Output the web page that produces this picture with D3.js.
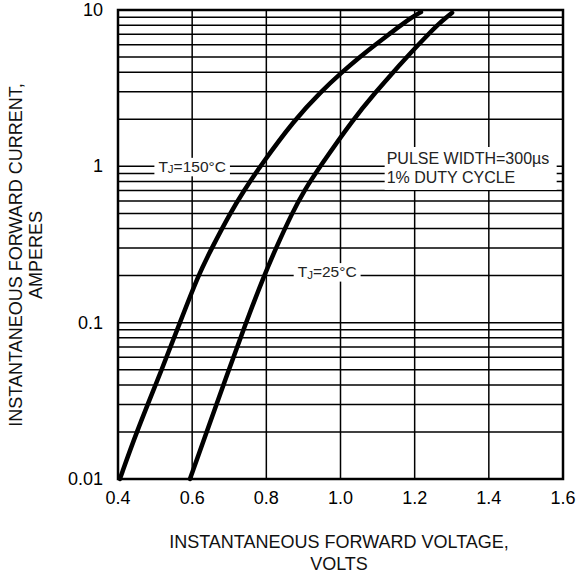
<!DOCTYPE html>
<html>
<head>
<meta charset="utf-8">
<script src="https://cdn.jsdelivr.net/npm/d3@7"></script>
<style>
    body { margin: 0; background: #fff; }
    svg { font-family: "Liberation Sans", Arial, sans-serif; }
    .grid line { stroke: #000; stroke-width: 1.5; }
    .curve { fill: none; stroke: #000; stroke-width: 4.5; stroke-linecap: round; }
</style>
</head>
<body>
<div id="chart"></div>
<script>
// Forward voltage (V) vs forward current (A)
const volts150 = [0.405, 0.450, 0.518, 0.567, 0.616, 0.653, 0.702, 0.740, 0.783, 0.877, 0.947, 1.004, 1.052, 1.094, 1.131, 1.163, 1.193, 1.217];
const amps150  = [0.01, 0.02, 0.05, 0.1, 0.2, 0.3, 0.5, 0.7, 1, 2, 3, 4, 5, 6, 7, 8, 9, 9.7];

const volts25 = [0.594, 0.639, 0.699, 0.745, 0.794, 0.826, 0.869, 0.902, 0.945, 1.034, 1.096, 1.142, 1.179, 1.210, 1.237, 1.261, 1.286, 1.301];
const amps25  = [0.01, 0.02, 0.05, 0.1, 0.2, 0.3, 0.5, 0.7, 1, 2, 3, 4, 5, 6, 7, 8, 9, 9.6];

const xTicks = [0.4, 0.6, 0.8, 1.0, 1.2, 1.4, 1.6];
const yTicks = [0.01, 0.1, 1, 10];
const yTickLabels = ["0.01", "0.1", "1", "10"];

class ForwardChart {

    constructor(_parentElement) {
        this.parentElement = _parentElement;
        this.initVis();
    }

    initVis() {
        let vis = this;

        vis.margin = { top: 10, right: 15, bottom: 97, left: 118 };
        vis.width = 578 - vis.margin.left - vis.margin.right;
        vis.height = 576 - vis.margin.top - vis.margin.bottom;

        vis.svg = d3.select("#" + vis.parentElement).append("svg")
            .attr("width", 578)
            .attr("height", 576)
            .append("g")
            .attr("transform", "translate(" + vis.margin.left + "," + vis.margin.top + ")");

        vis.x = d3.scaleLinear().domain([0.4, 1.6]).range([0, vis.width]);
        vis.y = d3.scaleLog().domain([0.01, 10]).range([vis.height, 0]);

        // minor log lines 1..9 in each decade
        let hLines = [];
        [0.01, 0.1, 1].forEach(d => {
            for (let k = 1; k < 10; k++) hLines.push(d * k);
        });

        let grid = vis.svg.append("g").attr("class", "grid");
        grid.selectAll(".h").data(hLines).enter().append("line")
            .attr("x1", 0).attr("x2", vis.width)
            .attr("y1", d => vis.y(d)).attr("y2", d => vis.y(d));
        grid.selectAll(".v").data(xTicks).enter().append("line")
            .attr("y1", 0).attr("y2", vis.height)
            .attr("x1", d => vis.x(d)).attr("x2", d => vis.x(d));

        vis.svg.append("rect")
            .attr("width", vis.width).attr("height", vis.height)
            .attr("fill", "none").attr("stroke", "#000").attr("stroke-width", 2.5);

        // Tick labels
        vis.svg.selectAll(".xlab").data(xTicks).enter().append("text")
            .attr("x", d => vis.x(d)).attr("y", vis.height + 25)
            .attr("text-anchor", "middle").attr("font-size", 18)
            .text(d => d.toFixed(1));

        vis.svg.selectAll(".ylab").data(yTicks).enter().append("text")
            .attr("x", -15).attr("y", d => vis.y(d) + 6)
            .attr("text-anchor", "end").attr("font-size", 18)
            .text((d, i) => yTickLabels[i]);

        // Axis titles
        let xt = vis.svg.append("text").attr("text-anchor", "middle").attr("font-size", 18)
            .attr("fill", "#111")
            .attr("transform", "translate(" + (vis.width / 2 - 1.5) + "," + (vis.height + 69) + ")");
        xt.append("tspan").attr("x", 0).attr("dy", 0).text("INSTANTANEOUS FORWARD VOLTAGE,");
        xt.append("tspan").attr("x", 0).attr("dy", 22).text("VOLTS");

        let yt = vis.svg.append("text").attr("text-anchor", "middle").attr("font-size", 18)
            .attr("fill", "#111")
            .attr("transform", "translate(" + (-96) + "," + (vis.height / 2 + 10.5) + ") rotate(-90)");
        yt.append("tspan").attr("x", 0).attr("dy", 0).text("INSTANTANEOUS FORWARD CURRENT,");
        yt.append("tspan").attr("x", 0).attr("dy", 20).text("AMPERES");

        // Curves
        vis.line = d3.line()
            .x(d => vis.x(d[0]))
            .y(d => vis.y(d[1]))
            .curve(d3.curveBasis);

        vis.svg.append("path").attr("class", "curve")
            .datum(d3.zip(volts150, amps150)).attr("d", vis.line);
        vis.svg.append("path").attr("class", "curve")
            .datum(d3.zip(volts25, amps25)).attr("d", vis.line);

        // Labels with white boxes
        vis.addTJ(0.6, 1, 5.5, "150°C");
        vis.addTJ(0.964, 0.2, 1.5, "25°C");

        let note = vis.svg.append("g");
        let bx = vis.x(1.2) - 30, by = 137;
        note.append("rect").attr("x", bx).attr("y", by)
            .attr("width", 172).attr("height", 43).attr("fill", "#fff");
        note.append("text").attr("x", bx + 2).attr("y", by + 17).attr("font-size", 16).attr("fill", "#222")
            .text("PULSE WIDTH=300µs");
        note.append("text").attr("x", bx + 2).attr("y", by + 35.5).attr("font-size", 16).attr("fill", "#222")
            .text("1% DUTY CYCLE");
    }

    addTJ(v, a, shift, temp) {
        let vis = this;
        let g = vis.svg.append("g");
        let rect = g.append("rect").attr("fill", "#fff");
        let t = g.append("text")
            .attr("x", vis.x(v)).attr("y", vis.y(a) + shift)
            .attr("text-anchor", "middle").attr("font-size", 15.5).attr("fill", "#222");
        t.append("tspan").text("T");
        t.append("tspan").attr("font-size", 11.5).attr("dy", 1.5).text("J");
        t.append("tspan").attr("dy", -1.5).text("=" + temp);
        let bb = t.node().getBBox();
        rect.attr("x", bb.x - 4).attr("y", bb.y)
            .attr("width", bb.width + 8).attr("height", bb.height + 1);
    }
}

new ForwardChart("chart");
</script>
</body>
</html>
